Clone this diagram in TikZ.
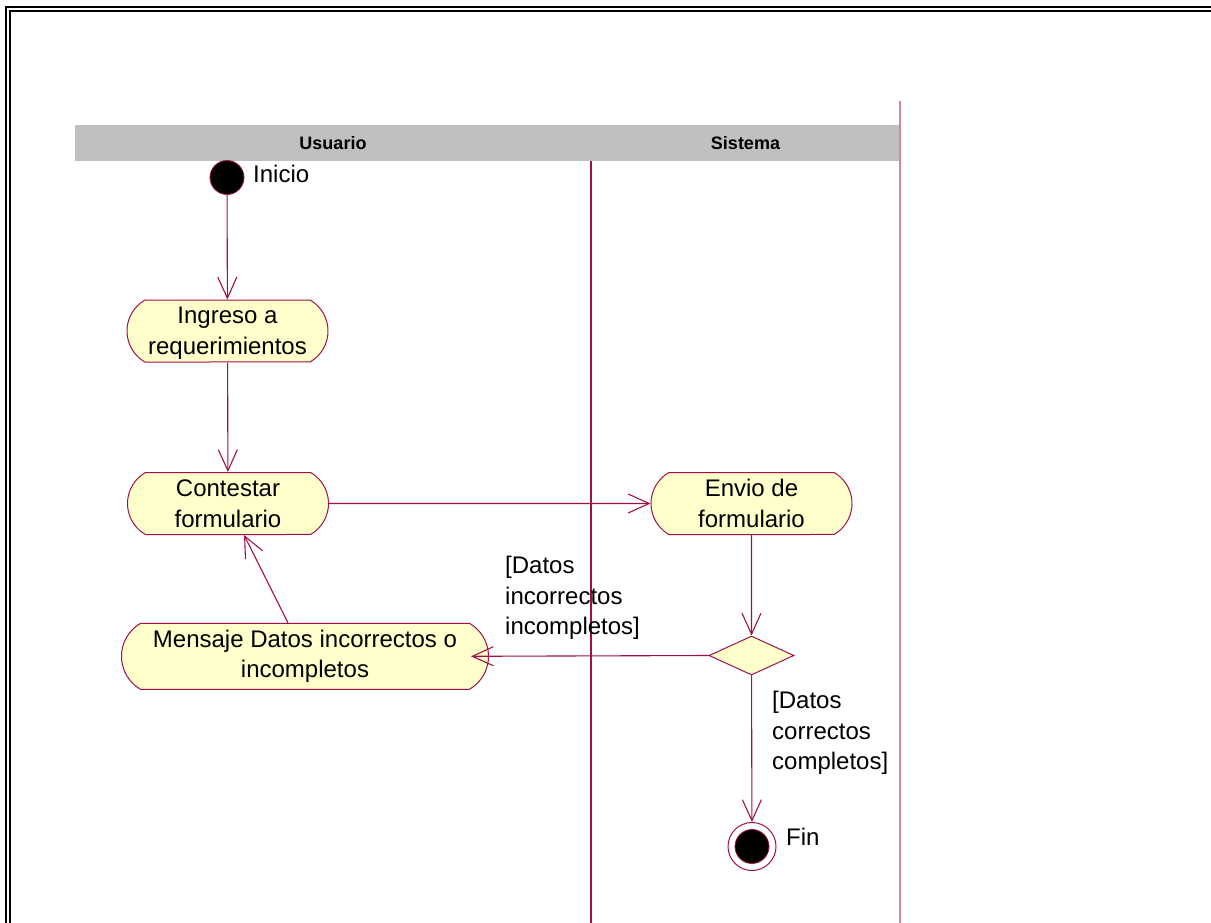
\documentclass[tikz,border=0pt]{standalone}
\usepackage{fontspec}
\setmainfont{Liberation Sans}
\usetikzlibrary{shapes.misc,shapes.geometric,arrows.meta}

\definecolor{roseline}{RGB}{160,16,72}
\definecolor{rosefill}{RGB}{255,255,204}
\definecolor{lanehead}{RGB}{192,192,192}
\definecolor{laneedge}{RGB}{214,130,165}

\begin{document}
\begin{tikzpicture}[x=1pt,y=-1pt,
  bodytext/.style={font=\fontsize{24}{30.5}\selectfont},
  activity/.style={rounded rectangle, rounded rectangle arc length=120,
    draw=roseline, fill=rosefill, line width=1pt, align=center,
    inner sep=0pt, bodytext},
  flow/.style={draw=roseline, line width=1.1pt,
    -{Straight Barb[length=21pt,width=19pt,line width=1.1pt]}},
  lanetitle/.style={font=\fontsize{18}{20}\selectfont\bfseries, inner sep=0pt},
  guard/.style={bodytext, align=left, inner sep=0pt, anchor=north west},
  border/.style={line width=2pt, line join=miter}
]
\useasboundingbox (0,0) rectangle (1211,923);

% frame
\draw[border] (6,923) -- (6,7.5) -- (1211,7.5);
\draw[border] (10,923) -- (10,11.5) -- (1211,11.5);

% swimlanes
\fill[lanehead] (75,125) rectangle (900,161);
\node[lanetitle] (laneuser) at (333,143) {Usuario};
\node[lanetitle] (lanesys) at (745.5,143) {Sistema};
\draw[roseline, line width=1.3pt] (591,161) -- (591,923);
\draw[laneedge, line width=1.2pt] (900,101) -- (900,923);

% start and end states
\node[circle, fill=black, draw=roseline, line width=0.8pt, minimum size=34pt, inner sep=0pt] (start) at (227,177.5) {};
\node[bodytext, anchor=west, inner sep=0pt] (startlbl) at (253,174) {Inicio};

\node[circle, draw=roseline, fill=white, line width=1pt, minimum size=48pt, inner sep=0pt] (end) at (752,846.5) {};
\node[circle, fill=black, draw=roseline, line width=0.8pt, minimum size=34pt, inner sep=0pt] (endcore) at (end.center) {};
\node[bodytext, anchor=west, inner sep=0pt] (endlbl) at (786,837) {Fin};

% activities
\node[activity, minimum width=201pt, minimum height=62pt] (ingreso) at (227.5,331) {\strut Ingreso a\\requerimientos};
\node[activity, minimum width=201pt, minimum height=62pt] (contestar) at (228,503.5) {Contestar\\formulario};
\node[activity, minimum width=201pt, minimum height=62pt] (envio) at (751.5,503.5) {Envio de\\formulario};
\node[activity, minimum width=367pt, minimum height=66pt] (mensaje) at (305,656.3) {Mensaje Datos incorrectos o\\incompletos};

% decision
\node[diamond, draw=roseline, fill=rosefill, line width=1pt, minimum width=85pt, minimum height=39pt, inner sep=0pt] (decision) at (751.5,655.5) {};

% guards
\node[guard] (gbad) at (505,556) {[Datos\\incorrectos\\incompletos]};
\node[guard] (gok) at (772,691) {[Datos\\correctos\\completos]};

% transitions
\draw[flow] (start) -- (ingreso);
\draw[flow] (ingreso) -- (contestar);
\draw[flow] (contestar) -- (envio);
\draw[flow] (envio) -- (decision);
\draw[flow] (decision.west) -- ([xshift=-18pt]mensaje.east);
\draw[flow] ([xshift=-17pt]mensaje.north) -- ([xshift=16pt]contestar.south);
\draw[flow] (decision) -- (end);
\end{tikzpicture}
\end{document}
